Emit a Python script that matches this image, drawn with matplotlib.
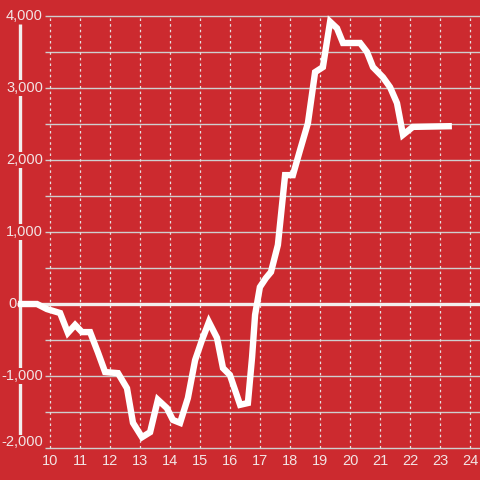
import matplotlib.pyplot as plt

# hours of the day vs. cumulative value
hours = [8.92, 9.55, 9.88, 10.32, 10.58, 10.82, 11.05, 11.32, 11.58, 11.82,
         12.25, 12.55, 12.75, 13.05, 13.32, 13.58, 13.88, 14.08, 14.32, 14.58,
         14.82, 15.05, 15.28, 15.55, 15.75, 15.98, 16.32, 16.58, 16.72, 16.82,
         16.98, 17.18, 17.35, 17.58, 17.82, 18.08, 18.32, 18.58, 18.82, 19.08,
         19.32, 19.55, 19.75, 20.32, 20.55, 20.75, 21.08, 21.32, 21.55, 21.75,
         22.08, 23.38]
values = [0, 0, -70, -125, -400, -290, -390, -390, -670, -945,
          -960, -1170, -1650, -1850, -1780, -1330, -1445, -1610, -1650, -1305,
          -780, -500, -250, -470, -890, -985, -1400, -1375, -735, -150,
          235, 360, 445, 820, 1790, 1790, 2140, 2510, 3220, 3290,
          3920, 3830, 3625, 3625, 3500, 3290, 3150, 3010, 2790, 2350,
          2460, 2470]

x_ticks = list(range(10, 25))
y_ticks = [-2000, -1000, 1000, 2000, 3000, 4000]
y_grid = [-2000, -1500, -1000, -500, 500, 1000, 1500, 2000, 2500, 3000, 3500, 4000]

bg = '#cc2a2f'
txt = '#f2e4e4'

plt.rcParams['font.family'] = ['Liberation Sans', 'DejaVu Sans']

fig = plt.figure(figsize=(4.8, 4.8), dpi=100)
fig.patch.set_facecolor(bg)
ax = fig.add_axes([0, 0, 1, 1])
ax.set_facecolor(bg)
ax.set_axis_off()
ax.set_xlim(8.317, 24.317)
ax.set_ylim(-2444, 4222)

# grid
ax.hlines(y_grid, 9.817, 24.4, color='#cfcfcf', linewidth=1.0, zorder=1)
ax.vlines(x_ticks, -2000, 4000, color='#e6e0e0', linewidth=0.9,
          linestyles=(0, (2, 2.5)), zorder=1)
ax.hlines([0], 8.883, 24.4, color='#f2eeee', linewidth=2.4, zorder=2)
ax.vlines([8.983], -2000, 3890, color='#f2eeee', linewidth=2.4, zorder=2)

# data line
ax.plot(hours, values, color='white', linewidth=4.6, solid_capstyle='butt',
        solid_joinstyle='miter', zorder=4)

# tick labels
for v in y_ticks:
    yy = v if v > -2000 else v + 80
    ax.text(9.75, yy, f"{v:,}", ha='right', va='center',
            fontsize=10.5, color=txt, zorder=5,
            bbox=dict(facecolor=bg, edgecolor='none', pad=0.5))
ax.text(8.58, 0, "0", ha='left', va='center', fontsize=10.5, color=txt, zorder=5)
for h in x_ticks:
    ax.text(h, -2181, str(h), ha='center', va='center', fontsize=10.5,
            color=txt, zorder=5)

fig.savefig('out.png', dpi=100, facecolor=bg)
